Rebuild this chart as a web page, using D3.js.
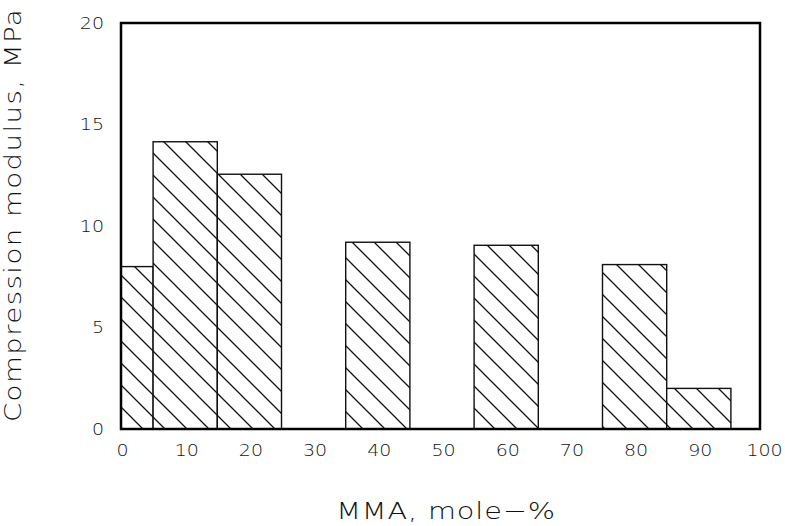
<!DOCTYPE html>
<html>
<head>
<meta charset="utf-8">
<script src="https://cdn.jsdelivr.net/npm/d3@7"></script>
<style>
  html, body { margin: 0; padding: 0; background: #fff; }
  svg { display: block; }
  text { font-family: "DejaVu Sans", "Noto Sans", sans-serif; fill: #111; }
</style>
</head>
<body>
<svg id="chart" width="785" height="526"></svg>
<script>
// MMA content (mole-%) at the centre of each bar
const mmaContent = [0, 10, 20, 40, 60, 80, 90];
// Compression modulus (MPa)
const modulus = [8.0, 14.15, 12.55, 9.2, 9.05, 8.1, 2.0];
const xTicks = [0, 10, 20, 30, 40, 50, 60, 70, 80, 90, 100];
const yTicks = [0, 5, 10, 15, 20];
const barWidth = 10;

const svg = d3.select("#chart");
const plotLeft = 121, plotRight = 760, plotTop = 23, plotBottom = 429;

const x = d3.scaleLinear().domain([0, 100]).range([plotLeft, 763]);
const y = d3.scaleLinear().domain([0, 20]).range([plotBottom, plotTop]);

// Diagonal hatching
const defs = svg.append("defs");
const pat = defs.append("pattern")
  .attr("id", "hatch")
  .attr("patternUnits", "userSpaceOnUse")
  .attr("width", 22).attr("height", 22);
pat.append("rect").attr("width", 22).attr("height", 22).attr("fill", "#fff");
pat.append("path")
  .attr("d", "M-11,-11 L33,33 M-11,11 L11,33 M11,-11 L33,11")
  .attr("stroke", "#111").attr("stroke-width", 1.3).attr("fill", "none");

defs.append("clipPath").attr("id", "plotClip")
  .append("rect").attr("x", plotLeft).attr("y", plotTop)
  .attr("width", plotRight - plotLeft).attr("height", plotBottom - plotTop);

const data = mmaContent.map((c, i) => ({ c, v: modulus[i] }));

svg.append("g").attr("clip-path", "url(#plotClip)")
  .selectAll("rect.bar")
  .data(data)
  .join("rect")
  .attr("class", "bar")
  .attr("x", d => x(d.c - barWidth / 2))
  .attr("width", d => x(d.c + barWidth / 2) - x(d.c - barWidth / 2))
  .attr("y", d => y(d.v))
  .attr("height", d => y(0) - y(d.v))
  .attr("fill", "url(#hatch)")
  .attr("stroke", "#111")
  .attr("stroke-width", 1.4);

// Frame
svg.append("rect")
  .attr("x", plotLeft).attr("y", plotTop)
  .attr("width", plotRight - plotLeft).attr("height", plotBottom - plotTop)
  .attr("fill", "none").attr("stroke", "#000").attr("stroke-width", 2.5);

// Tick labels (no tick marks), set in a widened light face
const xAxis = d3.axisBottom(x).tickValues(xTicks).tickSize(0).tickPadding(0).tickFormat(d3.format("d"));
const gx = svg.append("g").attr("transform", `translate(1,${plotBottom + 15})`).call(xAxis);
gx.select(".domain").remove();
gx.selectAll("text").attr("font-size", 16.5).attr("font-weight", 200)
  .attr("transform", "scale(1.15,1)")
  .attr("font-family", "'DejaVu Sans', sans-serif").attr("fill", "#111");

const yAxis = d3.axisLeft(y).tickValues(yTicks).tickSize(0).tickPadding(0).tickFormat(d3.format("d"));
const gy = svg.append("g").attr("transform", `translate(104,0)`).call(yAxis);
gy.select(".domain").remove();
gy.selectAll("text").attr("font-size", 16.5).attr("font-weight", 200)
  .attr("transform", "scale(1.15,1)")
  .attr("font-family", "'DejaVu Sans', sans-serif").attr("fill", "#111");

// Axis titles
svg.append("text")
  .attr("transform", "translate(446,519) scale(1.25,1)")
  .attr("text-anchor", "middle")
  .attr("font-size", 23).attr("font-weight", 200)
  .attr("letter-spacing", 0.7)
  .text("MMA, mole\u2212%");

svg.append("text")
  .attr("transform", "translate(21,215) rotate(-90) scale(1.2,1)")
  .attr("text-anchor", "middle")
  .attr("font-size", 23).attr("font-weight", 200)
  .attr("letter-spacing", 1.2)
  .text("Compression modulus, MPa");
</script>
</body>
</html>
